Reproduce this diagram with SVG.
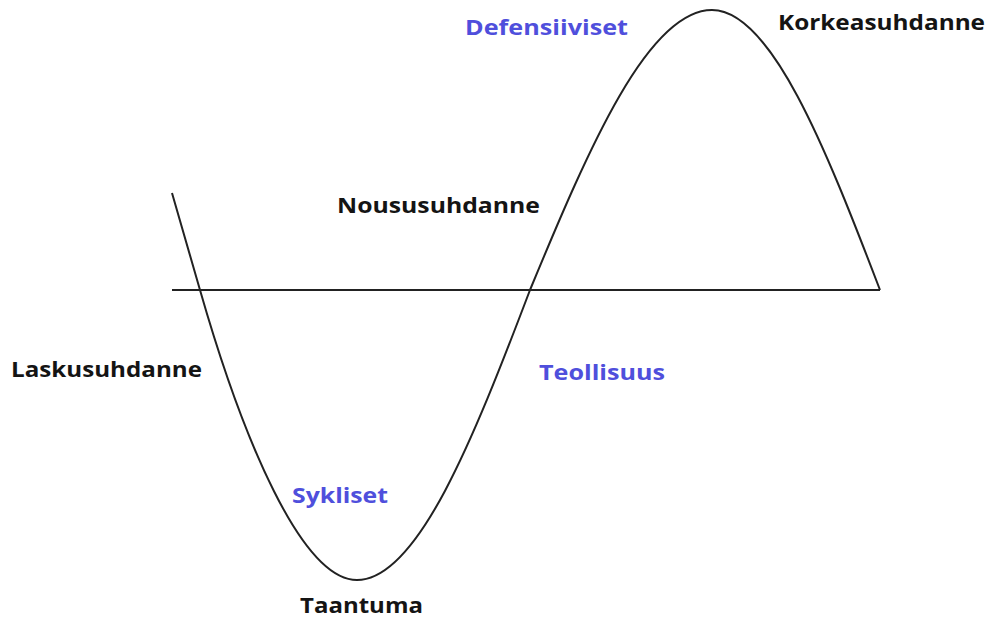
<svg xmlns="http://www.w3.org/2000/svg" width="993" height="620" viewBox="0 0 993 620">
<style>
.lbl{font-family:"Open Sans","Liberation Sans",sans-serif;font-weight:bold;font-size:21px}
.blk{fill:#141414}
.blu{fill:#4f4fdc}
.ln{fill:none;stroke:#222;stroke-width:2}
</style>
<rect width="993" height="620" fill="#fff"/>
<g id="connectors">
<line id="axis" class="ln" x1="172" y1="290" x2="880" y2="290"/>
<path id="curve" class="ln" d="M172,193 L200,290 C243,440 302,580 357,580 C417.6,580 473.6,438.5 530,290 C589.3,146.6 648.3,10 712,10 C770.8,10 825.2,146.6 880,290"/>
</g>
<g id="korkeasuhdanne"><text class="lbl blk" x="778" y="30" textLength="207" lengthAdjust="spacingAndGlyphs">Korkeasuhdanne</text></g>
<g id="defensiiviset"><text class="lbl blu" x="465" y="35" textLength="163" lengthAdjust="spacingAndGlyphs">Defensiiviset</text></g>
<g id="noususuhdanne"><text class="lbl blk" x="337" y="213" textLength="203" lengthAdjust="spacingAndGlyphs">Noususuhdanne</text></g>
<g id="laskusuhdanne"><text class="lbl blk" x="11" y="377" textLength="191" lengthAdjust="spacingAndGlyphs">Laskusuhdanne</text></g>
<g id="teollisuus"><text class="lbl blu" x="539" y="380" textLength="126" lengthAdjust="spacingAndGlyphs">Teollisuus</text></g>
<g id="sykliset"><text class="lbl blu" x="292" y="503" textLength="96" lengthAdjust="spacingAndGlyphs">Sykliset</text></g>
<g id="taantuma"><text class="lbl blk" x="300" y="613" textLength="123" lengthAdjust="spacingAndGlyphs">Taantuma</text></g>
</svg>
